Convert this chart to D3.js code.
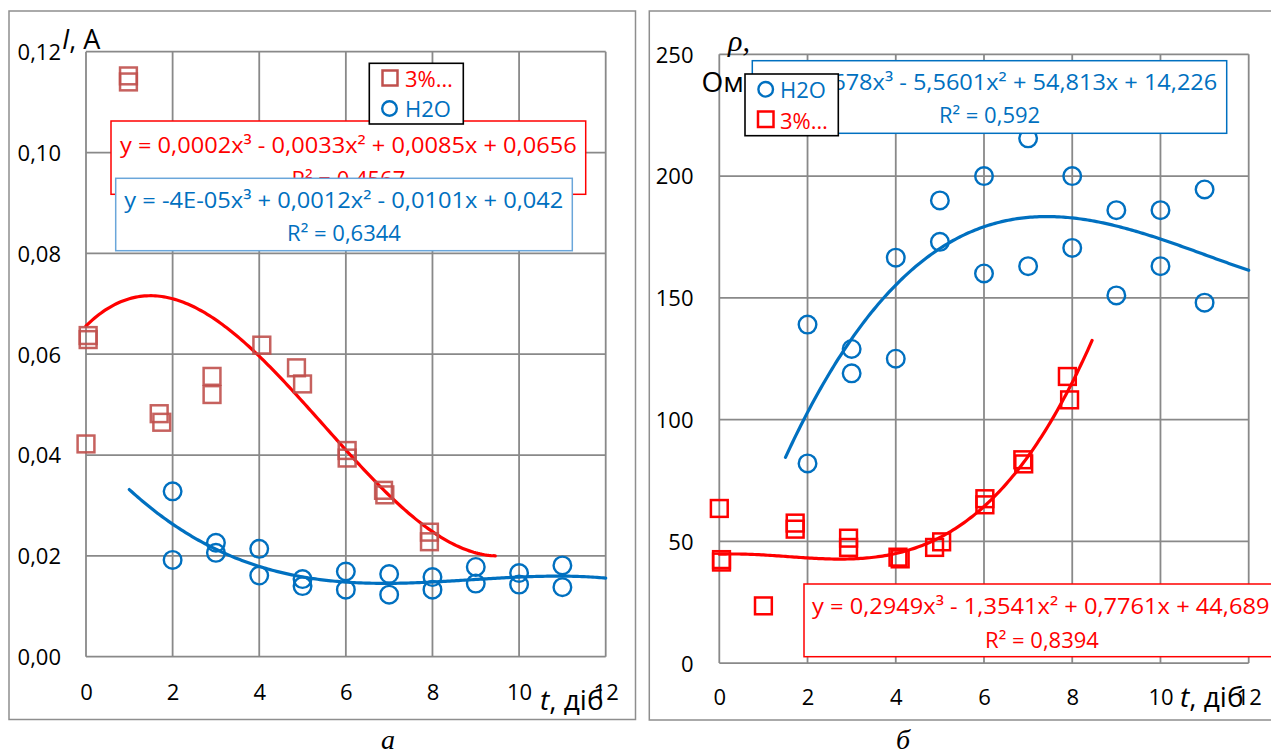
<!DOCTYPE html>
<html>
<head>
<meta charset="utf-8">
<script src="https://cdn.jsdelivr.net/npm/d3@7"></script>
<style>
  html, body { margin: 0; padding: 0; background: #fff; }
  svg { display: block; font-family: "Open Sans", "Noto Sans", sans-serif; }
</style>
</head>
<body>
<svg id="chart" width="1271" height="754"></svg>
<script>
// ---------- tick labels ----------
const xTicks = [0, 2, 4, 6, 8, 10, 12];
const yTicksA = [0, 0.02, 0.04, 0.06, 0.08, 0.10, 0.12];
const yTickLabelsA = ["0,00", "0,02", "0,04", "0,06", "0,08", "0,10", "0,12"];
const yTicksB = [0, 50, 100, 150, 200, 250];

// ---------- chart а: current I, A ----------
const aRedX = [0.05, 0.05, 0, 0.98, 0.98, 1.69, 1.75, 2.91, 2.91, 4.06, 4.86, 5.0, 6.03, 6.03, 6.87, 6.9, 7.93, 7.93];
const aRedY = [0.0637, 0.0629, 0.0422, 0.1152, 0.1140, 0.0482, 0.0465, 0.0556, 0.0520, 0.0618, 0.0573, 0.0541, 0.0409, 0.0394, 0.0330, 0.0321, 0.0247, 0.0228];
const aBlueX = [2, 2, 3, 3, 4, 4, 5, 5, 6, 6, 7, 7, 8, 8, 9, 9, 10, 10, 11, 11];
const aBlueY = [0.0328, 0.0192, 0.0226, 0.0206, 0.0214, 0.0161, 0.0154, 0.0140, 0.0169, 0.0133, 0.0164, 0.0123, 0.0158, 0.0133, 0.0178, 0.0145, 0.0166, 0.0143, 0.0181, 0.0138];
const aRedRange = [0, 9.45];
const aBlueRange = [1, 12];
// trend coefficients (x³, x², x, 1) as printed on the chart; null = fit from the points
const aRedCoef = [0.0002, -0.0033, 0.0085, 0.0656];
const aBlueCoef = null; // printed "-4E-05" is too rounded to reproduce the drawn curve
const aRedEq = ["y = 0,0002x³ - 0,0033x² + 0,0085x + 0,0656", "R² = 0,4567"];
const aBlueEq = ["y = -4E-05x³ + 0,0012x² - 0,0101x + 0,042", "R² = 0,6344"];

// ---------- chart б: resistivity ρ, Ом ----------
const bBlueX = [2, 2, 3, 3, 4, 4, 5, 5, 6, 6, 7, 7, 8, 8, 9, 9, 10, 10, 11, 11];
const bBlueY = [139, 82, 129, 119, 166.5, 125, 190, 173, 200, 160, 215.5, 163, 200, 170.5, 186, 151, 186, 163, 194.5, 148];
const bRedX = [0.05, 0.05, 0, 1, 1.72, 1.72, 2.93, 2.93, 4.05, 4.1, 4.88, 5.04, 6.02, 6.02, 6.88, 6.9, 7.89, 7.94];
const bRedY = [42.5, 41.5, 63.5, 23.5, 57.5, 55, 51.3, 47.5, 43.5, 42.8, 47.5, 49.8, 67.5, 65, 83.5, 81.8, 117.7, 108.1];
const bBlueRange = [1.5, 12];
const bRedRange = [0, 8.45];
const bBlueCoef = [0.1678, -5.5601, 54.813, 14.226];
const bRedCoef = [0.2949, -1.3541, 0.7761, 44.689];
const bBlueEq = ["y = 0,1678x³ - 5,5601x² + 54,813x + 14,226", "R² = 0,592"];
const bRedEq = ["y = 0,2949x³ - 1,3541x² + 0,7761x + 44,689", "R² = 0,8394"];

const legendRed = "3%…";
const legendBlue = "H2O";

// ---------- helpers ----------
// least-squares polynomial fit, returns coefficients highest power first
function polyfit(xs, ys, deg) {
  const n = deg + 1;
  const A = Array.from({length: n}, () => new Array(n + 1).fill(0));
  xs.forEach((x, i) => {
    for (let r = 0; r < n; r++) {
      for (let c = 0; c < n; c++) A[r][c] += Math.pow(x, r + c);
      A[r][n] += ys[i] * Math.pow(x, r);
    }
  });
  for (let i = 0; i < n; i++) {
    let m = i;
    for (let k = i + 1; k < n; k++) if (Math.abs(A[k][i]) > Math.abs(A[m][i])) m = k;
    [A[i], A[m]] = [A[m], A[i]];
    for (let k = i + 1; k < n; k++) {
      const f = A[k][i] / A[i][i];
      for (let j = i; j <= n; j++) A[k][j] -= f * A[i][j];
    }
  }
  const c = new Array(n).fill(0);
  for (let i = n - 1; i >= 0; i--) {
    let s = A[i][n];
    for (let j = i + 1; j < n; j++) s -= A[i][j] * c[j];
    c[i] = s / A[i][i];
  }
  return c.reverse();
}
const polyVal = (c, x) => c.reduce((s, a) => s * x + a, 0);

const svg = d3.select("#chart");
svg.append("rect").attr("width", 1271).attr("height", 754).attr("fill", "#fff");

const GRID = "#898989";
const RED = "#FF0000";
const BLUE = "#0070C0";

function drawPanel(cfg) {
  const g = svg.append("g");
  g.append("rect").attr("x", cfg.frame[0]).attr("y", cfg.frame[1])
    .attr("width", cfg.frame[2] - cfg.frame[0]).attr("height", cfg.frame[3] - cfg.frame[1])
    .attr("fill", "#fff").attr("stroke", "#8e8e8e").attr("stroke-width", 1.5);

  const x = d3.scaleLinear().domain([0, 12]).range([cfg.plot[0], cfg.plot[2]]);
  const y = d3.scaleLinear().domain(cfg.yDomain).range([cfg.plot[3], cfg.plot[1]]);

  const grid = g.append("g").attr("stroke", GRID).attr("stroke-width", 1.8);
  xTicks.forEach(t => grid.append("line").attr("x1", x(t)).attr("x2", x(t))
    .attr("y1", y(cfg.yDomain[1])).attr("y2", y(cfg.yDomain[0])));
  cfg.yTicks.forEach(t => grid.append("line").attr("y1", y(t)).attr("y2", y(t))
    .attr("x1", x(0)).attr("x2", x(12)));

  const yAxis = d3.axisLeft(y).tickValues(cfg.yTicks).tickSize(0).tickPadding(0)
    .tickFormat((d, i) => cfg.yLabels[i]);
  const ya = g.append("g").attr("transform", `translate(${cfg.yLabelRight},0)`).call(yAxis);
  ya.select(".domain").remove();
  ya.selectAll("text").attr("font-family", "Open Sans").attr("font-size", 22).attr("fill", "#000").attr("dy", "0.36em");

  const xAxis = d3.axisBottom(x).tickValues(xTicks).tickSize(0).tickPadding(0).tickFormat(d3.format("d"));
  const xa = g.append("g").attr("transform", `translate(0,${cfg.xLabelBase})`).call(xAxis);
  xa.select(".domain").remove();
  xa.selectAll("text").attr("font-family", "Open Sans").attr("font-size", 22).attr("fill", "#000").attr("dy", "0");

  const line = d3.line().x(d => x(d[0])).y(d => y(d[1]));
  cfg.series.forEach(s => {
    const c = s.coef || polyfit(s.xs, s.ys, 3);
    const pts = d3.range(s.range[0], s.range[1], 0.05).map(t => [t, polyVal(c, t)]);
    pts.push([s.range[1], polyVal(c, s.range[1])]);
    g.append("path").attr("d", line(pts)).attr("fill", "none")
      .attr("stroke", s.lineColor).attr("stroke-width", 3.2).attr("stroke-linecap", "round");
  });

  cfg.series.forEach(s => {
    const pts = s.xs.map((v, i) => [v, s.ys[i]]);
    if (s.shape === "square") {
      g.append("g").selectAll("rect").data(pts).join("rect")
        .attr("x", d => x(d[0]) - 8.4).attr("y", d => y(d[1]) - 8.4)
        .attr("width", 16.8).attr("height", 16.8)
        .attr("fill", "none").attr("stroke", s.markColor).attr("stroke-width", 2.5)
        .attr("stroke-opacity", s.markOpacity);
    } else {
      g.append("g").selectAll("circle").data(pts).join("circle")
        .attr("cx", d => x(d[0])).attr("cy", d => y(d[1])).attr("r", 8.8)
        .attr("fill", "none").attr("stroke", s.markColor).attr("stroke-width", 2.4);
    }
  });

  cfg.boxes.forEach(b => {
    g.append("rect").attr("x", b.box[0]).attr("y", b.box[1])
      .attr("width", b.box[2] - b.box[0]).attr("height", b.box[3] - b.box[1])
      .attr("fill", "#fff").attr("stroke", b.stroke).attr("stroke-width", 1.5);
    g.append("text").attr("x", b.l1[0]).attr("y", b.l1[1])
      .attr("textLength", b.l1[2]).attr("lengthAdjust", "spacingAndGlyphs")
      .attr("font-size", 22).attr("fill", b.color).text(b.text[0]);
    g.append("text").attr("x", (b.box[0] + b.box[2]) / 2).attr("y", b.l2)
      .attr("text-anchor", "middle").attr("font-size", 22).attr("fill", b.color).text(b.text[1]);
  });

  return g;
}

// ---------- panel а ----------
const gA = drawPanel({
  frame: [9, 11, 635.5, 719.5],
  plot: [86, 51.7, 605.7, 656.7],
  yDomain: [0, 0.12],
  yTicks: yTicksA,
  yLabels: yTickLabelsA,
  yLabelRight: 61,
  xLabelBase: 700,
  series: [
    {xs: aRedX, ys: aRedY, range: aRedRange, coef: aRedCoef, lineColor: RED, markColor: "#C0504D", markOpacity: 0.9, shape: "square"},
    {xs: aBlueX, ys: aBlueY, range: aBlueRange, coef: aBlueCoef, lineColor: BLUE, markColor: BLUE, shape: "circle"}
  ],
  boxes: [
    {box: [111, 121, 585.7, 194.3], stroke: RED, color: RED, text: aRedEq, l1: [120, 153, 456.7], l2: 187},
    {box: [115.7, 178.3, 572.3, 250.7], stroke: "#6AA6DA", color: BLUE, text: aBlueEq, l1: [124.3, 207.5, 439], l2: 240.5}
  ]
});

const legA = gA.append("g");
legA.append("rect").attr("x", 369.3).attr("y", 63.3).attr("width", 94).attr("height", 60.7)
  .attr("fill", "#fff").attr("stroke", "#000").attr("stroke-width", 1.6);
legA.append("rect").attr("x", 382.5).attr("y", 70.5).attr("width", 15).attr("height", 15)
  .attr("fill", "none").attr("stroke", "#C0504D").attr("stroke-width", 2.5);
legA.append("text").attr("x", 405).attr("y", 87).attr("font-size", 22).attr("fill", RED).text(legendRed);
legA.append("circle").attr("cx", 389.5).attr("cy", 108.5).attr("r", 7.3)
  .attr("fill", "none").attr("stroke", BLUE).attr("stroke-width", 2.4);
legA.append("text").attr("x", 405).attr("y", 117).attr("font-size", 22).attr("fill", BLUE).text(legendBlue);

gA.append("text").attr("x", 62).attr("y", 49).attr("font-size", 27).attr("fill", "#000")
  .call(t => { t.append("tspan").attr("font-style", "italic").text("I"); t.append("tspan").text(", A"); });
gA.append("text").attr("x", 540).attr("y", 710).attr("font-size", 28).attr("fill", "#000")
  .call(t => { t.append("tspan").attr("font-style", "italic").text("t"); t.append("tspan").text(", діб"); });
gA.append("text").attr("x", 388).attr("y", 749).attr("text-anchor", "middle")
  .attr("font-family", "Liberation Serif").attr("font-style", "italic").attr("font-size", 28).text("а");

// ---------- panel б ----------
const gB = drawPanel({
  frame: [649.3, 11, 1275, 720],
  plot: [719.3, 54.3, 1248.7, 663.1],
  yDomain: [0, 250],
  yTicks: yTicksB,
  yLabels: yTicksB.map(String),
  yLabelRight: 693.5,
  xLabelBase: 705,
  series: [
    {xs: bBlueX, ys: bBlueY, range: bBlueRange, coef: bBlueCoef, lineColor: BLUE, markColor: BLUE, shape: "circle"},
    {xs: bRedX, ys: bRedY, range: bRedRange, coef: bRedCoef, lineColor: RED, markColor: RED, markOpacity: 1, shape: "square"}
  ],
  boxes: [
    {box: [752.3, 60.7, 1226.7, 133.3], stroke: BLUE, color: BLUE, text: bBlueEq, l1: [761.7, 90, 455.6], l2: 123},
    {box: [804, 584, 1280, 656.7], stroke: RED, color: RED, text: bRedEq, l1: [812, 614, 457.5], l2: 648}
  ]
});

gB.append("text").attr("x", 728).attr("y", 51).attr("font-family", "Liberation Serif")
  .attr("font-style", "italic").attr("font-size", 30).attr("fill", "#000").text("ρ,");
gB.append("text").attr("x", 701.5).attr("y", 91.5).attr("font-size", 28).attr("fill", "#000").text("Ом");
gB.append("text").attr("x", 1180).attr("y", 707).attr("font-size", 28).attr("fill", "#000")
  .call(t => { t.append("tspan").attr("font-style", "italic").text("t"); t.append("tspan").text(", діб"); });
gB.append("text").attr("x", 903).attr("y", 749).attr("text-anchor", "middle")
  .attr("font-family", "Liberation Serif").attr("font-style", "italic").attr("font-size", 28).text("б");

const legB = gB.append("g");
legB.append("rect").attr("x", 745).attr("y", 74).attr("width", 93.3).attr("height", 61.7)
  .attr("fill", "#fff").attr("stroke", "#000").attr("stroke-width", 1.6);
legB.append("circle").attr("cx", 765.7).attr("cy", 89.3).attr("r", 7.3)
  .attr("fill", "none").attr("stroke", BLUE).attr("stroke-width", 2.4);
legB.append("text").attr("x", 780).attr("y", 97.5).attr("font-size", 22).attr("fill", BLUE).text(legendBlue);
legB.append("rect").attr("x", 758).attr("y", 111.5).attr("width", 15.5).attr("height", 15.5)
  .attr("fill", "none").attr("stroke", RED).attr("stroke-width", 2.5);
legB.append("text").attr("x", 780).attr("y", 128.5).attr("font-size", 22).attr("fill", RED).text(legendRed);
</script>
</body>
</html>
